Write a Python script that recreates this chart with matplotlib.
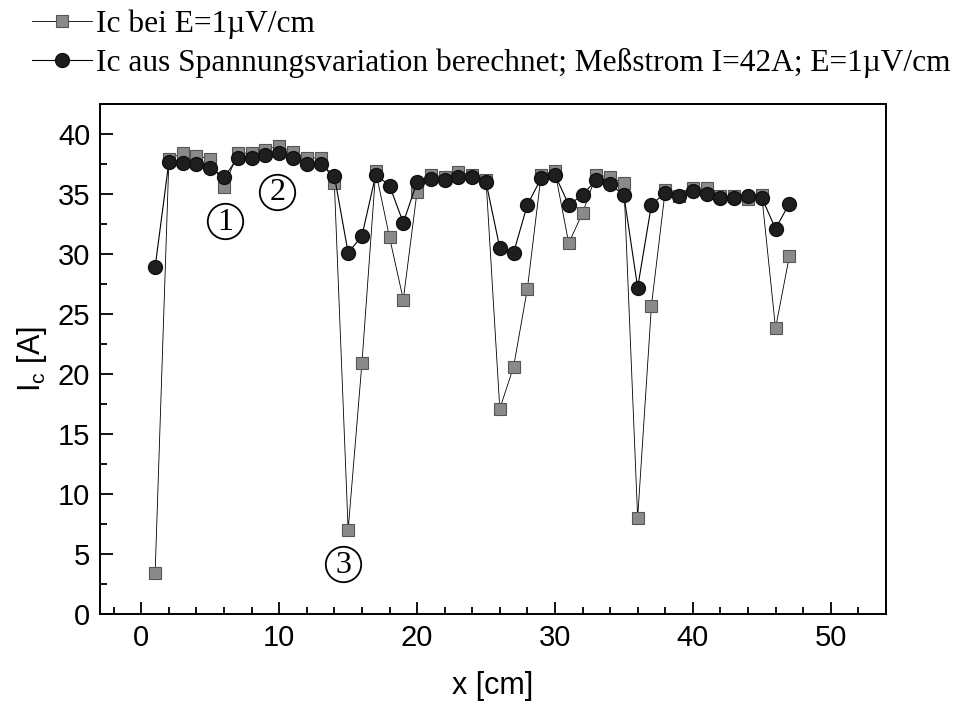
import numpy as np
import matplotlib
matplotlib.use('Agg')
import matplotlib.pyplot as plt
from matplotlib.ticker import MultipleLocator

# position along the conductor [cm]
x_cm = list(range(1, 48))

# Ic bei E=1uV/cm (squares)
ic_direct = [3.4, 37.9, 38.4, 38.2, 37.9, 35.6, 38.4, 38.4, 38.7, 39.0,
             38.5, 38.0, 38.0, 35.9, 7.0, 20.9, 36.9, 31.4, 26.2, 35.2,
             36.6, 36.4, 36.8, 36.6, 36.2, 17.1, 20.6, 27.1, 36.6, 36.9,
             30.9, 33.4, 36.6, 36.4, 35.9, 8.0, 25.7, 35.3, 34.8, 35.5,
             35.5, 34.8, 34.8, 34.6, 34.9, 23.8, 29.8]

# Ic aus Spannungsvariation berechnet (circles)
ic_calc = [28.9, 37.7, 37.6, 37.5, 37.2, 36.4, 38.0, 38.0, 38.25, 38.4,
           38.0, 37.5, 37.5, 36.5, 30.1, 31.5, 36.6, 35.7, 32.6, 36.0,
           36.25, 36.2, 36.4, 36.4, 36.0, 30.5, 30.1, 34.1, 36.3, 36.6,
           34.1, 34.9, 36.2, 35.8, 34.9, 27.2, 34.1, 35.1, 34.8, 35.25,
           35.0, 34.7, 34.7, 34.8, 34.7, 32.1, 34.2]

# circled markers 1, 2, 3
marks = ['1', '2', '3']
mark_x = [6.1, 9.85, 14.65]
mark_y = [32.75, 35.2, 4.15]

label_sq = 'Ic bei E=1\u00b5V/cm'
label_ci = 'Ic aus Spannungsvariation berechnet; Me\u00dfstrom I=42A; E=1\u00b5V/cm'

fig = plt.figure(figsize=(9.66, 7.07), dpi=100)
ax = fig.add_axes([0.1035, 0.1315, 0.8135, 0.7215])

ax.plot(x_cm, ic_direct, '-', color='black', lw=0.6, marker='s', ms=8,
        mfc='#8a8a8a', mec='#555555', mew=0.8, label=label_sq)
ax.plot(x_cm, ic_calc, '-', color='black', lw=0.8, marker='o', ms=10,
        mfc='#1e1e1e', mec='#111111', label=label_ci)

ax.plot(mark_x, mark_y, 'o', ms=25.5, mfc='none', mec='black', mew=1.3)
for m, mx, my in zip(marks, mark_x, mark_y):
    ax.text(mx, my - 0.1, m, fontsize=23, ha='center', va='center',
            family='Liberation Serif')

ax.set_xlim(-3, 54)
ax.set_ylim(0, 42.5)
ax.xaxis.set_major_locator(MultipleLocator(10))
ax.xaxis.set_minor_locator(MultipleLocator(2))
ax.yaxis.set_major_locator(MultipleLocator(5))
ax.yaxis.set_minor_locator(MultipleLocator(2.5))
ax.tick_params(which='both', direction='in', top=False, right=False,
               width=1.3, labelsize=21)
ax.tick_params(which='major', length=9, pad=7)
ax.tick_params(which='minor', length=5)
for lab in ax.get_xticklabels() + ax.get_yticklabels():
    lab.set_family('Liberation Sans')
for s in ax.spines.values():
    s.set_linewidth(1.4)

ax.set_xlabel('x [cm]', fontsize=22, family='Liberation Sans', labelpad=14)
ax.set_ylabel(r'I$_\mathregular{c}$ [A]', fontsize=22, family='Liberation Sans',
              labelpad=6)

fig.legend(loc='upper left', bbox_to_anchor=(0.02, 1.005), frameon=False,
           prop={'family': 'Liberation Serif', 'size': 22.6},
           handlelength=1.9, handletextpad=0.15, labelspacing=0.3,
           borderaxespad=0.0)

fig.savefig('out.png', dpi=100)
